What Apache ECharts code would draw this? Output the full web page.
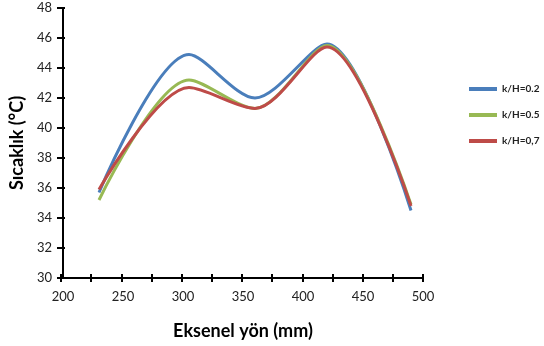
<!DOCTYPE html>
<html>
<head>
<meta charset="utf-8">
<script src="https://cdn.jsdelivr.net/npm/echarts@6/dist/echarts.min.js"></script>
<style>
  html, body { margin: 0; padding: 0; background: #fff; }
  #chart { width: 544px; height: 346px; }
</style>
</head>
<body>
<div id="chart"></div>
<script>
// positions along the axis (mm)
const positions = [230, 305, 360, 420, 490]
const seriesNames = ['k/H=0.2', 'k/H=0.5', 'k/H=0,7']
const kh02 = [35.7, 44.9, 42.0, 45.6, 34.5]
const kh05 = [35.2, 43.2, 41.3, 45.5, 34.9]
const kh07 = [35.9, 42.7, 41.3, 45.4, 34.8]
const colors = ['#4a7ebb', '#98b954', '#be4b48']

const FONT = 'Lato'
const chart = echarts.init(document.getElementById('chart'))

const toPairs = (vals) => positions.map((x, i) => [x, vals[i]])

const gridBox = { left: 61, top: 8, right: 121, bottom: 68 }
const tickStyle = { color: '#000', width: 2 }

const baseX = { type: 'value', min: 200, max: 500, interval: 25, splitLine: { show: false } }
const baseY = { type: 'value', min: 30, max: 48, interval: 2, splitLine: { show: false } }

chart.setOption({
  animation: false,
  color: colors,
  grid: [gridBox, gridBox],
  legend: {
    orient: 'vertical',
    left: 464,
    top: 79,
    itemWidth: 28,
    itemHeight: 4,
    itemGap: 16,
    icon: 'rect',
    textStyle: { fontFamily: FONT, fontWeight: 'bold', fontSize: 10, color: '#222' },
    data: seriesNames
  },
  xAxis: [
    {
      ...baseX,
      gridIndex: 0,
      name: 'Eksenel yön (mm)',
      nameLocation: 'middle',
      nameGap: 44,
      nameTextStyle: { fontFamily: FONT, fontWeight: 'bold', fontSize: 18, color: '#000' },
      axisLine: { lineStyle: { color: '#000', width: 2 } },
      axisTick: { show: false },
      axisLabel: {
        fontFamily: FONT, fontSize: 13, color: '#222', margin: 12,
        formatter: (v) => (v % 50 === 0 ? String(v) : '')
      }
    },
    {
      // tick marks that cross the axis line
      ...baseX,
      gridIndex: 1,
      offset: -4,
      axisLine: { show: false },
      axisTick: { length: 8, lineStyle: tickStyle },
      axisLabel: { show: false }
    }
  ],
  yAxis: [
    {
      ...baseY,
      gridIndex: 0,
      name: 'Sıcaklık (°C)',
      nameLocation: 'middle',
      nameGap: 37,
      nameTextStyle: { fontFamily: FONT, fontWeight: 'bold', fontSize: 18, color: '#000' },
      axisLine: { lineStyle: { color: '#000', width: 2 } },
      axisTick: { show: false },
      axisLabel: { fontFamily: FONT, fontSize: 13, color: '#222', margin: 11 }
    },
    {
      ...baseY,
      gridIndex: 1,
      offset: -4,
      axisLine: { show: false },
      axisTick: { length: 8, lineStyle: tickStyle },
      axisLabel: { show: false }
    }
  ],
  series: [kh02, kh05, kh07].map((vals, i) => ({
    name: seriesNames[i],
    type: 'line',
    xAxisIndex: 0,
    yAxisIndex: 0,
    smooth: 0.3,
    showSymbol: false,
    lineStyle: { width: 3 },
    data: toPairs(vals)
  }))
})
</script>
</body>
</html>
